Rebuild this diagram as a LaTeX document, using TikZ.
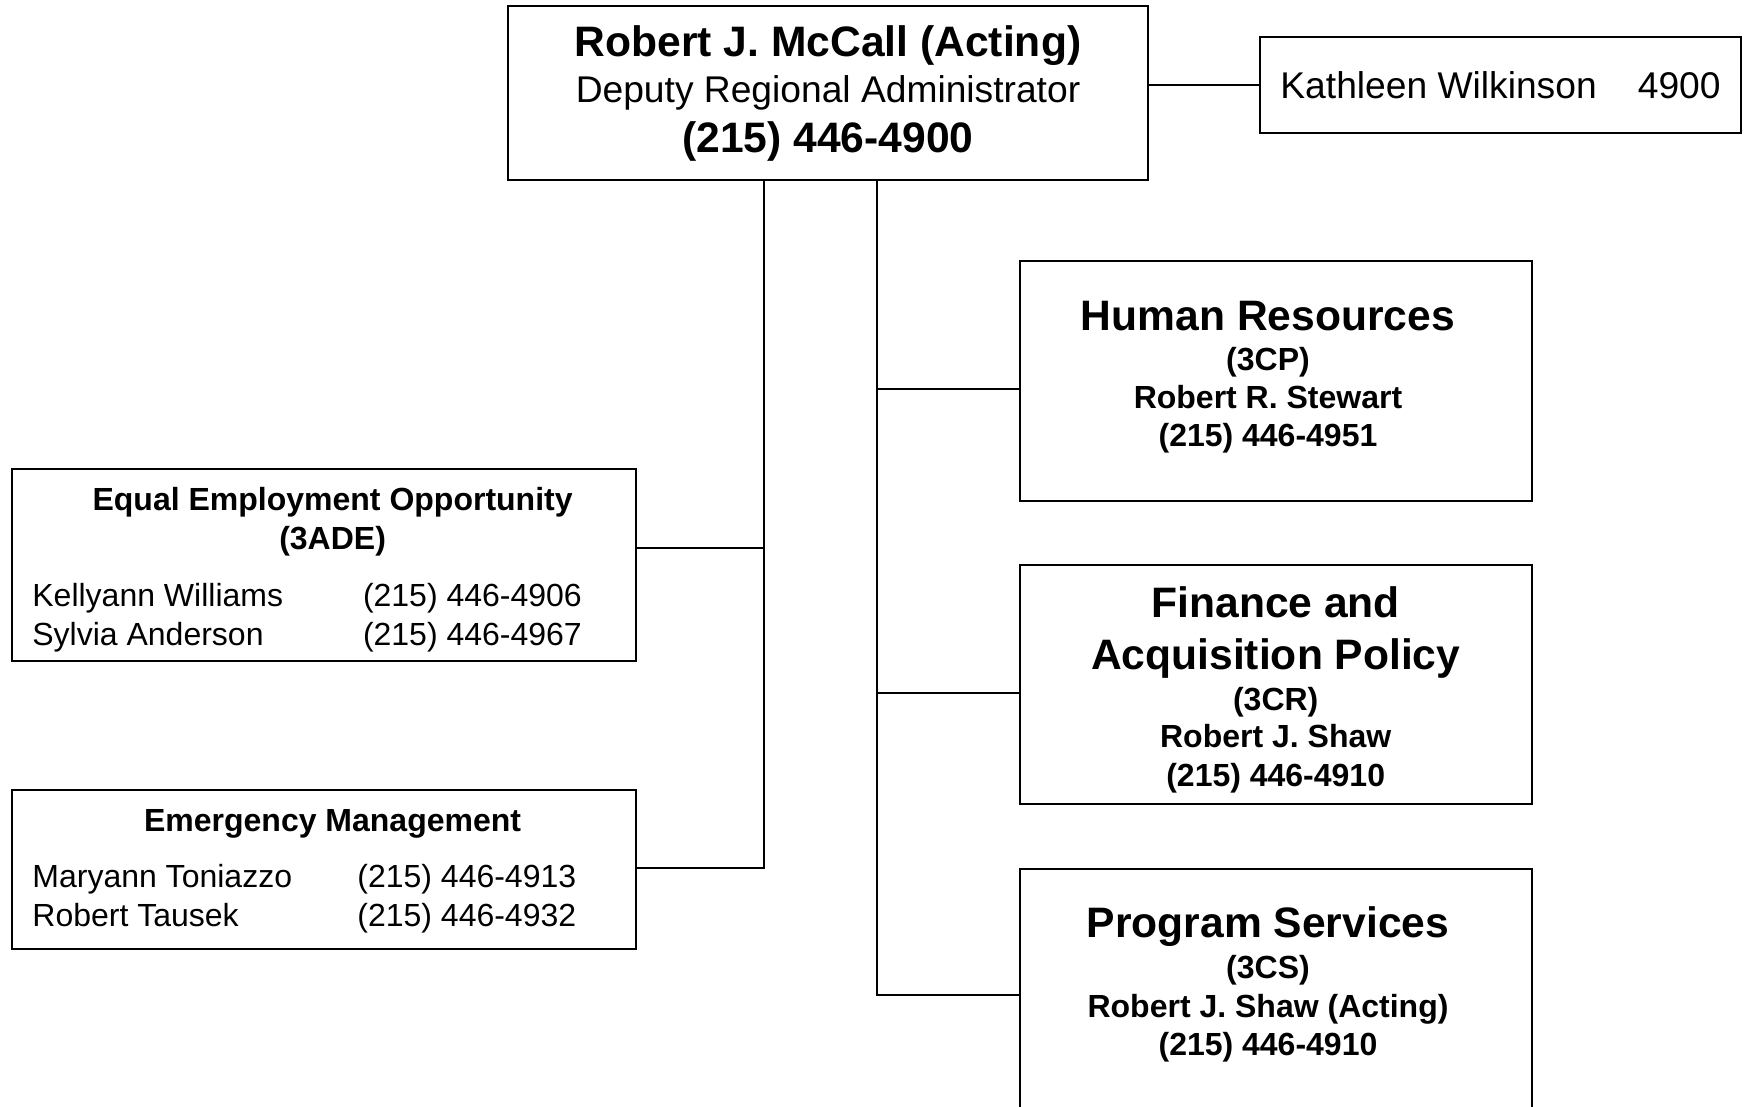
\documentclass[tikz,border=0pt]{standalone}
\usepackage{fontspec}
\setmainfont{Liberation Sans}
\tikzset{
  unitbox/.style={draw, line width=1pt, inner sep=0pt},
  link/.style={line width=1pt},
  bighead/.style={font=\fontsize{21.3}{25}\selectfont\bfseries, anchor=base, inner sep=0pt},
  midtext/.style={font=\fontsize{18.6}{22}\selectfont, anchor=base, inner sep=0pt},
  smallhead/.style={font=\fontsize{16}{19}\selectfont\bfseries, anchor=base, inner sep=0pt},
  smalltext/.style={font=\fontsize{16}{19}\selectfont, anchor=base west, inner sep=0pt}
}
\begin{document}
\begin{tikzpicture}[x=0.5pt,y=-0.5pt]
  \useasboundingbox (0,0) rectangle (1744,1107);
  % boxes
  \node[unitbox, minimum width=320pt, minimum height=87pt] (dra) at (828,93) {};
  \node[unitbox, minimum width=240.5pt, minimum height=48pt] (kw) at (1500.5,85) {};
  \node[unitbox, minimum width=312pt, minimum height=96pt] (eeo) at (324,565) {};
  \node[unitbox, minimum width=312pt, minimum height=79.5pt] (em) at (324,869.5) {};
  \node[unitbox, minimum width=255.75pt, minimum height=119.75pt] (hr) at (1275.8,381) {};
  \node[unitbox, minimum width=255.75pt, minimum height=119.5pt] (fap) at (1275.8,684.5) {};
  \node[unitbox, minimum width=255.75pt, minimum height=125pt] (ps) at (1275.8,993.6) {};
  % junctions on the two buses
  \coordinate (eeoj) at (764,548);
  \coordinate (emj) at (764,867.5);
  \coordinate (hrj) at (876.5,389);
  \coordinate (fapj) at (876.5,693);
  \coordinate (psj) at (876.5,995);
  % connectors
  \draw[link] (dra.east |- kw.west) -- (kw.west);
  \draw[link] (dra.south -| eeoj) -- (emj) -- (emj -| em.east);
  \draw[link] (eeoj) -- (eeoj -| eeo.east);
  \draw[link] (dra.south -| hrj) -- (psj) -- (psj -| ps.west);
  \draw[link] (hrj) -- (hrj -| hr.west);
  \draw[link] (fapj) -- (fapj -| fap.west);
  % top
  \path (828,57) node[bighead] (draname) {Robert J. McCall (Acting)};
  \path (828,103) node[midtext] (dratitle) {Deputy Regional Administrator};
  \path (828,153) node[bighead] (draphone) {(215) 446-4900};
  \path (1280,99) node[midtext, anchor=base west] (kwname) {Kathleen Wilkinson};
  \path (1721,99) node[midtext, anchor=base east] (kwext) {4900};
  % equal employment opportunity
  \path (332.6,510.5) node[smallhead] (eeohead) {Equal Employment Opportunity};
  \path (332.6,549.5) node[smallhead] (eeocode) {(3ADE)};
  \path (32,606.5) node[smalltext] (eeoa) {Kellyann Williams};
  \path (362.6,606.5) node[smalltext] (eeoaph) {(215) 446-4906};
  \path (32,645.5) node[smalltext] (eeob) {Sylvia Anderson};
  \path (362.6,645.5) node[smalltext] (eeobph) {(215) 446-4967};
  % emergency management
  \path (332.6,831.5) node[smallhead] (emhead) {Emergency Management};
  \path (32,887.5) node[smalltext] (ema) {Maryann Toniazzo};
  \path (357,887.5) node[smalltext] (emaph) {(215) 446-4913};
  \path (32,926.5) node[smalltext] (emb) {Robert Tausek};
  \path (357,926.5) node[smalltext] (embph) {(215) 446-4932};
  % human resources
  \path (1268,330) node[bighead] (hrhead) {Human Resources};
  \path (1268,370.5) node[smallhead] (hrcode) {(3CP)};
  \path (1268,408.5) node[smallhead] (hrname) {Robert R. Stewart};
  \path (1268,446.5) node[smallhead] (hrphone) {(215) 446-4951};
  % finance and acquisition policy
  \path (1275.7,617) node[bighead] (faphead) {Finance and};
  \path (1275.7,669) node[bighead] (faphead2) {Acquisition Policy};
  \path (1275.7,710) node[smallhead] (fapcode) {(3CR)};
  \path (1275.7,747.5) node[smallhead] (fapname) {Robert J. Shaw};
  \path (1275.7,786.5) node[smallhead] (fapphone) {(215) 446-4910};
  % program services
  \path (1268,937) node[bighead] (pshead) {Program Services};
  \path (1268,978) node[smallhead] (pscode) {(3CS)};
  \path (1268,1017) node[smallhead] (psname) {Robert J. Shaw (Acting)};
  \path (1268,1055.5) node[smallhead] (psphone) {(215) 446-4910};
\end{tikzpicture}
\end{document}
